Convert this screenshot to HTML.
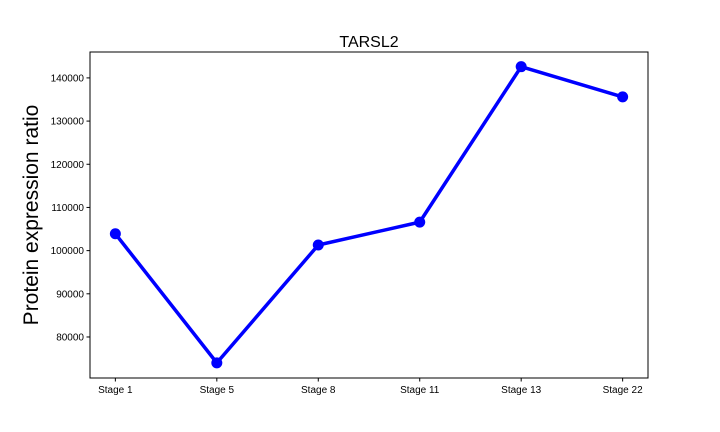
<!DOCTYPE html>
<html><head><meta charset="utf-8"><style>
body{margin:0;background:#fff;}
svg{display:block;font-family:"Liberation Sans","DejaVu Sans",sans-serif;}
</style></head><body>
<svg id="chart" width="720" height="432">
<text x="369" y="47" font-size="16" text-anchor="middle">TARSL2</text>
<text transform="translate(38,215) rotate(-90)" font-size="21" text-anchor="middle">Protein expression ratio</text>
<g id="ticks"></g>
<rect x="90" y="52" width="558" height="326" fill="none" stroke="#000" stroke-width="1"/>
<g id="series"></g>
</svg>
<script>
const categories=["Stage 1","Stage 5","Stage 8","Stage 11","Stage 13","Stage 22"];
const values=[103900,74000,101300,106600,142600,135600];
const yTicks=[80000,90000,100000,110000,120000,130000,140000];
const L=90,R=648,T=52,B=378,yMin=70500,yMax=146000;
const step=(R-L)/(categories.length-0.5);
const xs=i=>L+step*(0.25+i);
const ys=v=>B-(v-yMin)/(yMax-yMin)*(B-T);
const NS="http://www.w3.org/2000/svg";
const tg=document.getElementById('ticks');
function mk(tag,attrs,parent){const e=document.createElementNS(NS,tag);for(const k in attrs)e.setAttribute(k,attrs[k]);parent.appendChild(e);return e;}
yTicks.forEach(t=>{const y=ys(t);
const l=mk('line',{x1:L-3.5,x2:L,y1:y,y2:y,stroke:'#000'},tg);


const tx=mk('text',{x:L-6,y:y+3.5,'font-size':10,'text-anchor':'end'},tg);tx.textContent=t;

});
categories.forEach((c,i)=>{const x=xs(i);
const l=mk('line',{x1:x,x2:x,y1:B,y2:B+3.5,stroke:'#000'},tg);


const tx=mk('text',{x:x,y:B+15,'font-size':10,'text-anchor':'middle'},tg);tx.textContent=c;

});
const sg=document.getElementById('series');
const pl=mk('polyline',{points:values.map((v,i)=>xs(i)+','+ys(v)).join(' '),fill:'none',stroke:'#0000ff','stroke-width':3.5,'stroke-linejoin':'round'},sg);


values.forEach((v,i)=>{const c=mk('circle',{cx:xs(i),cy:ys(v),r:5.5,fill:'#0000ff'},sg);

});
</script>
</body></html>
